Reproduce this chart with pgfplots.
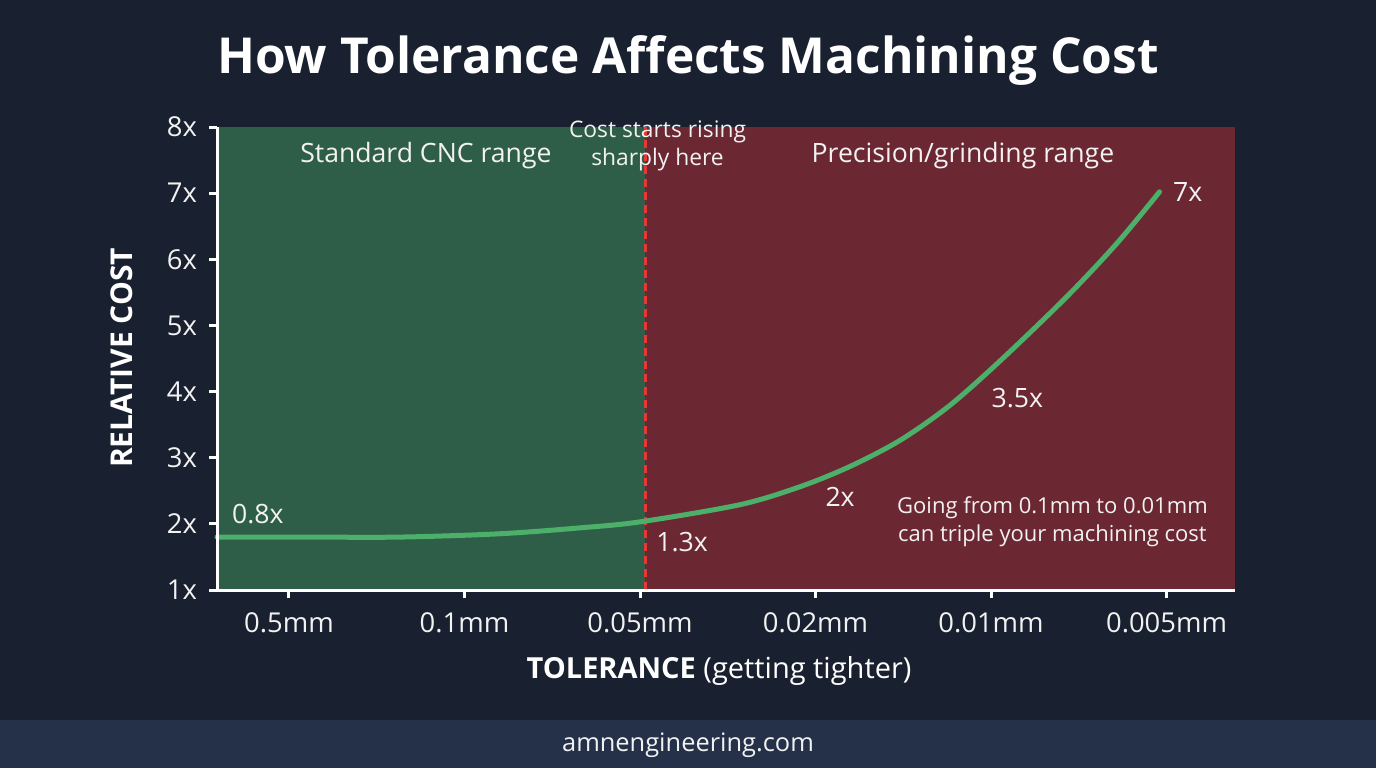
\documentclass[border=0pt]{standalone}
\usepackage{pgfplots}
\pgfplotsset{compat=1.18}
\usepackage{fontspec}
\setmainfont{Open Sans}
\definecolor{bg}{HTML}{19202F}
\definecolor{foot}{HTML}{243149}
\definecolor{greenzone}{HTML}{2F5E48}
\definecolor{redzone}{HTML}{6B2832}
\definecolor{curvegreen}{HTML}{4CAF6A}
\definecolor{dashred}{HTML}{E53935}
\definecolor{txt}{HTML}{F2F2F2}
\begin{document}
\begin{tikzpicture}
\fill[bg] (0,0) rectangle (688pt,384pt);
\fill[foot] (0,0) rectangle (688pt,24pt);
\begin{axis}[
  at={(108.5pt,89pt)}, anchor=south west,
  scale only axis, width=509pt, height=231.5pt,
  xmin=-0.41, xmax=5.39, ymin=1, ymax=8,
  axis lines*=left,
  axis line style={white, line width=1.5pt},
  tick style={white, line width=1.5pt},
  major tick length=4pt, tick align=outside,
  xtick={0,1,2,3,4,5},
  xticklabels={0.5mm,0.1mm,0.05mm,0.02mm,0.01mm,0.005mm},
  ytick={1,2,3,4,5,6,7,8},
  yticklabels={1x,2x,3x,4x,5x,6x,7x,8x},
  tick label style={txt, font=\fontsize{13.7}{15}\selectfont},
  xticklabel style={yshift=-4pt},
  yticklabel style={xshift=-2.5pt},
  clip=false,
  axis on top,
]
\addplot[fill=greenzone, draw=none] coordinates {(-0.41,1) (2.03,1) (2.03,8) (-0.41,8)} -- cycle;
\addplot[fill=redzone, draw=none] coordinates {(2.03,1) (5.39,1) (5.39,8) (2.03,8)} -- cycle;
\addplot[dashred, line width=1.5pt, dash pattern=on 4pt off 2.5pt] coordinates {(2.03,1) (2.03,8)};
\addplot[curvegreen, line width=2.5pt, smooth, line cap=round] coordinates {
(-0.41,1.80) (0.10,1.80) (0.63,1.80) (1.20,1.85) (1.66,1.94) (2.00,2.03)
(2.57,2.29) (2.91,2.56) (3.19,2.86) (3.48,3.26) (3.76,3.78) (4.05,4.46)
(4.43,5.43) (4.72,6.25) (4.96,7.02)};
\begin{scope}[every node/.style={txt, font=\fontsize{13.3}{15}\selectfont}]
\node at (axis cs:-0.177,2.15) {0.8x};
\node at (axis cs:2.24,1.73) {1.3x};
\node at (axis cs:3.14,2.41) {2x};
\node at (axis cs:4.15,3.90) {3.5x};
\node at (axis cs:5.12,7.01) {7x};
\node at (axis cs:0.78,7.57) {Standard CNC range};
\node at (axis cs:3.84,7.57) {Precision/grinding range};
\end{scope}
\node[txt, font=\fontsize{11.4}{14}\selectfont, align=center] at (axis cs:2.10,7.72) {Cost starts rising\\sharply here};
\node[txt, font=\fontsize{11}{14}\selectfont, align=center] at (axis cs:4.35,2.03) {Going from 0.1mm to 0.01mm\\can triple your machining cost};
\end{axis}
\node[white, anchor=base, font=\bfseries\fontsize{24.8}{28}\selectfont] at (344pt,347.5pt) {How Tolerance Affects Machining Cost};
\node[white, rotate=90, font=\bfseries\fontsize{15}{17}\selectfont] at (61pt,205pt) {RELATIVE COST};
\node[white, font=\fontsize{14.5}{17}\selectfont] at (359.5pt,48.5pt) {\textbf{TOLERANCE} (getting tighter)};
\node[txt, font=\fontsize{12.7}{14}\selectfont] at (344pt,11.5pt) {amnengineering.com};
\end{tikzpicture}
\end{document}
